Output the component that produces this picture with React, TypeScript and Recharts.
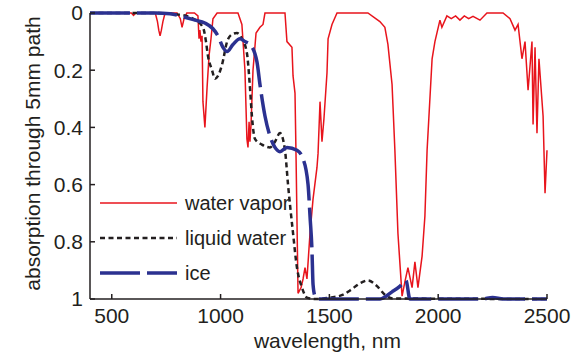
import React from 'react';
import { LineChart, Line, XAxis, YAxis, Legend, Label } from 'recharts';

const xTicks = [500, 1000, 1500, 2000, 2500];
const yTicks = [0, 0.2, 0.4, 0.6, 0.8, 1];

const vaporWl = [400, 590, 600, 610, 700, 710, 716, 722, 728, 735, 745, 800, 815, 823, 832, 845, 880, 896, 901, 905, 910, 915, 919, 928, 933, 938, 947, 956, 965, 984, 1080, 1098, 1112, 1121, 1126, 1131, 1135, 1140, 1149, 1163, 1181, 1195, 1204, 1296, 1305, 1328, 1333, 1342, 1347, 1356, 1370, 1379, 1388, 1397, 1411, 1425, 1443, 1448, 1457, 1466, 1475, 1489, 1494, 1512, 1535, 1677, 1732, 1755, 1769, 1788, 1792, 1801, 1815, 1834, 1847, 1861, 1880, 1893, 1907, 1926, 1939, 1949, 1972, 1985, 2008, 2017, 2040, 2060, 2080, 2100, 2120, 2140, 2160, 2192, 2224, 2298, 2330, 2353, 2367, 2385, 2399, 2413, 2431, 2436, 2445, 2454, 2463, 2482, 2491, 2500];
const vaporAbs = [0, 0, 0.008, 0, 0, 0.03, 0.06, 0.08, 0.06, 0.03, 0, 0, 0.02, 0.05, 0.02, 0, 0, 0.01, 0.09, 0.06, 0.1, 0.08, 0.31, 0.4, 0.33, 0.26, 0.15, 0.09, 0.02, 0, 0, 0.04, 0.2, 0.44, 0.47, 0.38, 0.45, 0.39, 0.2, 0.07, 0.05, 0.04, 0, 0, 0.1, 0.12, 0.22, 0.28, 0.51, 0.98, 0.96, 0.93, 0.89, 0.93, 0.77, 0.65, 0.54, 0.49, 0.31, 0.45, 0.37, 0.21, 0.09, 0.04, 0, 0, 0.03, 0.05, 0.11, 0.25, 0.32, 0.48, 0.77, 0.99, 0.94, 0.89, 0.96, 0.87, 0.96, 0.85, 0.71, 0.48, 0.16, 0.1, 0.025, 0.05, 0.01, 0.02, 0.01, 0.025, 0.01, 0.02, 0.012, 0.025, 0, 0, 0.02, 0.06, 0.04, 0.16, 0.1, 0.27, 0.1, 0.39, 0.12, 0.42, 0.16, 0.36, 0.63, 0.48];

const liquidWl = [400, 700, 800, 860, 919, 933, 942, 961, 974, 988, 1007, 1030, 1052, 1075, 1098, 1121, 1135, 1144, 1158, 1190, 1227, 1250, 1273, 1296, 1310, 1333, 1351, 1374, 1397, 1434, 1503, 1563, 1595, 1641, 1677, 1719, 1755, 1792, 2500];
const liquidAbs = [0, 0, 0.005, 0.015, 0.05, 0.1, 0.15, 0.2, 0.23, 0.22, 0.18, 0.1, 0.075, 0.07, 0.09, 0.14, 0.26, 0.36, 0.44, 0.46, 0.47, 0.45, 0.42, 0.48, 0.6, 0.77, 0.89, 0.96, 0.995, 1, 0.995, 0.985, 0.97, 0.945, 0.935, 0.955, 0.985, 0.998, 1];

const iceWl = [400, 700, 768, 836, 882, 928, 965, 988, 1011, 1030, 1057, 1089, 1112, 1135, 1167, 1181, 1204, 1227, 1250, 1273, 1305, 1351, 1379, 1402, 1411, 1420, 1425, 1434, 1448, 1733, 1788, 1825, 1852, 1870, 2200, 2250, 2300, 2500];
const iceAbs = [0, 0, 0.003, 0.015, 0.025, 0.035, 0.055, 0.08, 0.12, 0.135, 0.11, 0.09, 0.1, 0.11, 0.17, 0.25, 0.36, 0.43, 0.47, 0.485, 0.47, 0.48, 0.51, 0.6, 0.71, 0.83, 0.95, 0.99, 1, 1, 0.975, 0.955, 0.935, 1, 1, 0.995, 1, 1];

const seriesNames = ['water vapor', 'liquid water', 'ice'];

const build = (wl: number[], v: number[]) => wl.map((w, i) => ({ wl: w, v: v[i] }));
const vaporData = build(vaporWl, vaporAbs);
const liquidData = build(liquidWl, liquidAbs);
const iceData = build(iceWl, iceAbs);

const RED = '#e8141c';
const BLACK = '#231f20';
const BLUE = '#2b3190';
const TEXT = '#231f20';
const FONT = '"Liberation Sans", Arial, sans-serif';

const legendItems = [
  { name: seriesNames[0], color: RED, width: 1.5, dash: undefined as string | undefined },
  { name: seriesNames[1], color: BLACK, width: 2.5, dash: '5 3.5' },
  { name: seriesNames[2], color: BLUE, width: 3.5, dash: '40 7' },
];

const renderLegend = () => (
  <svg width={230} height={100} style={{ display: 'block' }}>
    {legendItems.map((it, i) => {
      const y = 15 + i * 35;
      return (
        <g key={it.name}>
          <line x1={0} x2={77} y1={y} y2={y} stroke={it.color} strokeWidth={it.width} strokeDasharray={it.dash} />
          <text x={85} y={y} dominantBaseline="central" fontSize={20} fill={TEXT} fontFamily={FONT}>{it.name}</text>
        </g>
      );
    })}
  </svg>
);

export default function App() {
  return (
    <div style={{ position: 'absolute', left: 0, top: 0, background: '#fff' }}>
      <LineChart width={584} height={355} margin={{ top: 13, right: 37, left: 0, bottom: 0 }}>
        <XAxis
          dataKey="wl"
          type="number"
          domain={[400, 2500]}
          ticks={xTicks}
          height={56}
          tickSize={-5}
          tickMargin={14}
          axisLine={{ stroke: TEXT, strokeWidth: 1.5 }}
          tickLine={{ stroke: TEXT, strokeWidth: 1.5 }}
          tick={{ fontSize: 21, fill: TEXT, fontFamily: FONT }}
          allowDuplicatedCategory={false}
        >
          <Label
            content={(props: any) => {
              const vb = props.viewBox || { x: 90, y: 299, width: 457 };
              return (
                <text x={vb.x + vb.width / 2 + 9} y={vb.y + 49} textAnchor="middle" fontSize={21} fill={TEXT} fontFamily={FONT}>
                  wavelength, nm
                </text>
              );
            }}
          />
        </XAxis>
        <YAxis
          type="number"
          domain={[0, 1]}
          reversed
          ticks={yTicks}
          width={90}
          tickSize={-5}
          tickMargin={12}
          axisLine={{ stroke: TEXT, strokeWidth: 1.5 }}
          tickLine={{ stroke: TEXT, strokeWidth: 1.5 }}
          tick={{ fontSize: 21, fill: TEXT, fontFamily: FONT }}
        >
          <Label
            content={(props: any) => {
              const vb = props.viewBox || { x: 0, y: 13, height: 286 };
              const cx = vb.x + 40;
              const cy = vb.y + vb.height / 2 - 2.5;
              return (
                <text x={cx} y={cy} transform={`rotate(-90, ${cx}, ${cy})`} textAnchor="middle" fontSize={21} fill={TEXT} fontFamily={FONT}>
                  absorption through 5mm path
                </text>
              );
            }}
          />
        </YAxis>
        <Legend layout="vertical" verticalAlign="middle" align="center" wrapperStyle={{ left: 100, top: 188, width: 230, height: 100 }} content={renderLegend} />
        <Line data={vaporData} dataKey="v" name={seriesNames[0]} type="linear" stroke={RED} strokeWidth={1.5} dot={false} activeDot={false} isAnimationActive={false} />
        <Line data={liquidData} dataKey="v" name={seriesNames[1]} type="monotone" stroke={BLACK} strokeWidth={2.5} strokeDasharray="5 3.5" dot={false} activeDot={false} isAnimationActive={false} />
        <Line data={iceData} dataKey="v" name={seriesNames[2]} type="monotone" stroke={BLUE} strokeWidth={3.5} strokeDasharray="40 7" dot={false} activeDot={false} isAnimationActive={false} />
      </LineChart>
    </div>
  );
}
